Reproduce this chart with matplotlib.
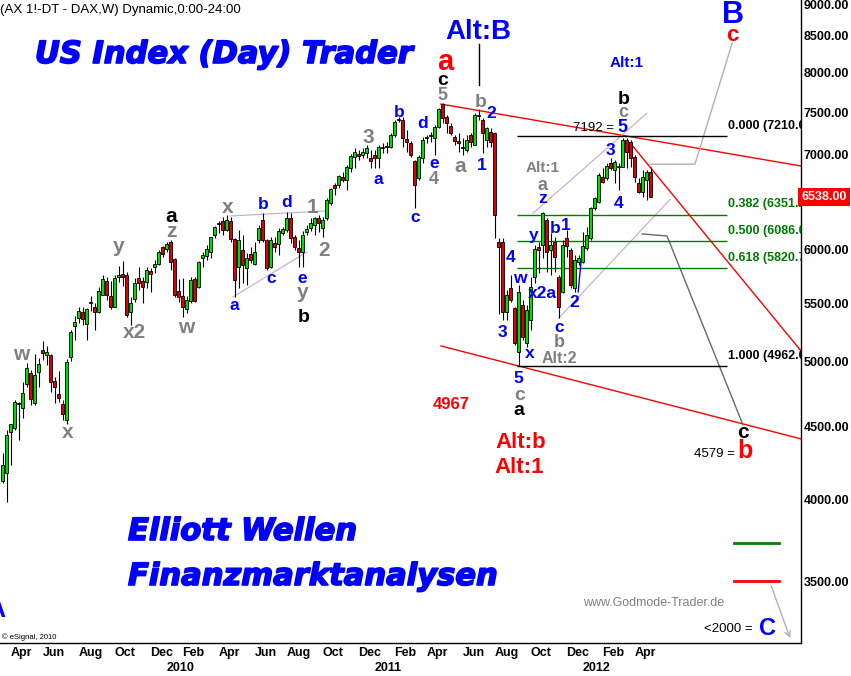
import numpy as np
import pandas as pd
import matplotlib
matplotlib.use("Agg")
import matplotlib.pyplot as plt
import matplotlib.patheffects as pe
from matplotlib.ticker import FixedLocator, NullLocator, NullFormatter

plt.rcParams["font.family"] = ["Liberation Sans", "DejaVu Sans"]

W, H = 851, 676

# weekly bars (DAX future), first bar = week of 23 Mar 2009
weeks = pd.date_range("2009-03-23", periods=163, freq="W-MON")

opens = [4116, 4172, 4459, 4488, 4675, 4637, 4823, 4913, 4674, 4916,
         5097, 5056, 5056, 4847, 4743, 4667, 4549, 5037, 5302, 5366,
         5419, 5314, 5500, 5468, 5419, 5573, 5702, 5565, 5468, 5736,
         5764, 5757, 5419, 5534, 5727, 5702, 5696, 5795, 5830, 5861,
         6023, 6003, 6071, 5906, 5610, 5565, 5445, 5522, 5717, 5644,
         5915, 5941, 5973, 6144, 6255, 6285, 6194, 6285, 6101, 5836,
         5996, 5820, 5953, 5861, 6094, 6295, 6094, 5836, 6067, 6054,
         6161, 6194, 6318, 6127, 6019, 5979, 6171, 6211, 6244, 6318,
         6211, 6312, 6468, 6664, 6664, 6755, 6718, 6850, 6974, 7008,
         6997, 7016, 6963, 6997, 6959, 7073, 7085, 7092, 7227, 7406,
         7406, 7177, 7131, 6929, 6736, 6959, 7188, 7220, 7197, 7326,
         7600, 7442, 7334, 7200, 7158, 7073, 7054, 7227, 7112, 7460,
         7406, 7169, 7268, 7248, 6077, 6077, 5424, 5635, 5454, 5080,
         5483, 5153, 5351, 5742, 6029, 6044, 6295, 5996, 6077, 5742,
         5604, 6111, 5996, 5635, 5880, 5883, 6011, 6111, 6416, 6486,
         6755, 6736, 6910, 6828, 6860, 6865, 7169, 7150, 6978, 6682,
         6592, 6718, 6809]
highs = [4312, 4476, 4520, 4699, 4686, 4842, 4988, 4934, 5064, 5029,
         5172, 5130, 5060, 4881, 4926, 4699, 5021, 5265, 5386, 5468,
         5468, 5454, 5565, 5498, 5649, 5757, 5742, 5702, 5757, 5842,
         5889, 5788, 5558, 5727, 5830, 5742, 5836, 5820, 5899, 5996,
         6035, 6077, 6094, 5915, 5717, 5727, 5565, 5736, 5736, 5889,
         5979, 6044, 6127, 6234, 6285, 6329, 6347, 6329, 6111, 6194,
         6144, 5963, 6029, 6077, 6244, 6364, 6100, 6127, 6127, 6211,
         6227, 6381, 6364, 6144, 6094, 6187, 6244, 6312, 6329, 6347,
         6329, 6521, 6628, 6682, 6773, 6809, 6883, 7008, 7077, 7054,
         7077, 7112, 7054, 7054, 7112, 7135, 7146, 7250, 7406, 7443,
         7446, 7287, 7158, 6940, 6997, 7207, 7227, 7266, 7346, 7551,
         7615, 7466, 7370, 7227, 7248, 7188, 7227, 7250, 7490, 7539,
         7425, 7322, 7310, 7266, 6113, 6113, 5619, 5757, 5468, 5665,
         5528, 5483, 5742, 6044, 6077, 6381, 6312, 6161, 6127, 5757,
         6094, 6194, 6016, 5947, 5947, 6177, 6227, 6434, 6538, 6791,
         6846, 6906, 6959, 6940, 6906, 7192, 7188, 7169, 6997, 6736,
         6828, 6828, 6865]
lows = [4109, 3980, 4229, 4476, 4404, 4562, 4797, 4662, 4662, 4802,
        5015, 4975, 4763, 4674, 4686, 4549, 4520, 5010, 5180, 5323,
        5308, 5180, 5433, 5265, 5410, 5570, 5528, 5445, 5462, 5696,
        5656, 5380, 5308, 5513, 5619, 5504, 5635, 5604, 5773, 5852,
        5931, 5980, 5804, 5558, 5513, 5380, 5410, 5498, 5513, 5640,
        5836, 5899, 5915, 6111, 6164, 6144, 6184, 6077, 5558, 5635,
        5680, 5665, 5867, 5852, 6061, 6077, 5804, 5820, 5979, 5947,
        6144, 6177, 6067, 5996, 5836, 5836, 6144, 6187, 6144, 6177,
        6127, 6295, 6451, 6557, 6628, 6700, 6610, 6806, 6850, 6940,
        6963, 6963, 6850, 6846, 6850, 7020, 7020, 7073, 7208, 7382,
        7092, 7031, 6974, 6416, 6718, 6906, 7135, 7150, 6997, 7310,
        7370, 7248, 7227, 7112, 7035, 6997, 7035, 7092, 7112, 7406,
        7016, 7092, 7092, 6117, 5400, 5351, 5351, 5513, 5139, 4962,
        5180, 5125, 5265, 5680, 5773, 5915, 5788, 5757, 5788, 5366,
        5589, 5931, 5637, 5604, 5852, 5868, 5996, 6094, 6398, 6468,
        6682, 6718, 6828, 6682, 6610, 6865, 6846, 6865, 6700, 6574,
        6538, 6503, 6538]
closes = [4229, 4440, 4518, 4686, 4665, 4751, 4948, 4704, 4894, 4983,
          5070, 5083, 4842, 4797, 4712, 4592, 5001, 5251, 5331, 5433,
          5357, 5445, 5508, 5419, 5610, 5717, 5573, 5468, 5727, 5754,
          5742, 5395, 5498, 5686, 5680, 5649, 5804, 5764, 5861, 5973,
          5957, 6054, 5883, 5573, 5558, 5468, 5528, 5711, 5519, 5883,
          5947, 6006, 6121, 6221, 6265, 6194, 6295, 6101, 5711, 6094,
          5852, 5915, 5899, 5979, 6211, 6094, 5820, 6094, 6028, 6184,
          6201, 6312, 6111, 6023, 5979, 6144, 6204, 6262, 6312, 6262,
          6295, 6503, 6617, 6628, 6762, 6718, 6861, 6985, 7031, 6985,
          7035, 7073, 6929, 6959, 7092, 7092, 7100, 7227, 7386, 7418,
          7189, 7150, 6997, 6664, 6977, 7169, 7207, 7233, 7326, 7535,
          7430, 7370, 7248, 7162, 7131, 7092, 7169, 7150, 7466, 7472,
          7248, 7310, 7150, 6346, 6028, 5424, 5573, 5528, 5153, 5604,
          5208, 5439, 5649, 6003, 5996, 6364, 5979, 6044, 5931, 5468,
          6044, 6035, 5665, 5899, 5918, 6035, 6144, 6416, 6521, 6773,
          6700, 6868, 6846, 6921, 6868, 7169, 7035, 6959, 6755, 6592,
          6755, 6809, 6538]

# Fibonacci retracement between swing high and swing low
fib_high, fib_low = 7210.0, 4962.0
fib_ratios = [0.000, 0.382, 0.500, 0.618, 1.000]
fib_colors = ["black", "#007a00", "#007a00", "#007a00", "black"]

yticks = [3500, 4000, 4500, 5000, 5500, 6000, 7000, 7500, 8000, 8500, 9000]
last_price = closes[-1]

BLUE, RED, GRAY, BLK = "#0000ff", "#ff0000", "#808080", "black"

fig = plt.figure(figsize=(W / 100, H / 100), dpi=100)
ax = fig.add_axes([0, 33 / H, 801 / W, 643 / H])
ax.set_yscale("log")

x = np.arange(len(weeks))
o = np.array(opens, float)
c = np.array(closes, float)
lo_body = np.minimum(o, c)
hi_body = np.maximum(o, c)
ax.vlines(x, lows, highs, color="black", lw=0.8, zorder=3)
ax.bar(x, np.maximum(hi_body - lo_body, 4), bottom=lo_body, width=0.75,
       color=np.where(c >= o, "#00dd00", "#e00000"), edgecolor="black",
       linewidth=0.6, zorder=4)

# trend / channel lines
ax.plot([109.6, 199.6], [7600, 6872], color=RED, lw=1, zorder=2)
ax.plot([109.6, 199.6], [5130, 4411], color=RED, lw=1, zorder=2)
ax.plot([156.9, 199.6], [7134, 5089], color=RED, lw=1, zorder=2)
ax.plot([132.6, 161.05], [6364, 7487], color="#c4aacb", lw=0.8, zorder=2)
ax.plot([139.0, 166.9], [5366, 6511], color="#c4aacb", lw=0.8, zorder=2)
ax.plot([57.6, 76.1], [5555, 5976], color="#c4aacb", lw=0.8, zorder=2)
ax.plot([56.9, 80.6], [6336, 6388], color="#c4aacb", lw=0.8, zorder=2)
ax.plot([161.9, 173.1, 182.4], [6893, 6893, 8393], color="#b0b0b0", lw=1, zorder=2)
ax.plot([159.9, 166.1, 185.1], [6154, 6134, 4513], color="#6a6a6a", lw=1, zorder=2)
ax.plot([119, 119], [8379, 7839], color="black", lw=1, zorder=2)
ax.plot([143.9, 144.6], [5601, 5880], color=BLUE, lw=1, zorder=5)
ax.annotate("", xy=(197.1, 3178), xytext=(191.9, 3490),
            arrowprops=dict(arrowstyle="->", color="#b0b0b0", lw=1))
ax.plot([182.9, 194.1], [3725, 3725], color="#008000", lw=2)
ax.plot([182.9, 194.1], [3502, 3502], color=RED, lw=2)

for r, col in zip(fib_ratios, fib_colors):
    lvl = fib_high - r * (fib_high - fib_low)
    ax.hlines(lvl, 128.6, 181.1, color=col, lw=1, zorder=2)
    ax.annotate(f"{r:.3f} ({lvl:.2f})", (181.4, lvl), xytext=(0, 3),
                textcoords="offset points", ha="left", va="bottom",
                fontsize=9, fontweight="bold", color=col, clip_on=True)

ax.set_xlim(-0.625, 199.6)
ax.set_ylim(3166, 9000)

# axes, ticks
for s in ("top", "left"):
    ax.spines[s].set_visible(False)
for s in ("right", "bottom"):
    ax.spines[s].set_color("black")
    ax.spines[s].set_linewidth(1)

ax.yaxis.tick_right()
ax.yaxis.set_major_locator(FixedLocator(yticks))
ax.yaxis.set_minor_locator(NullLocator())
ax.yaxis.set_minor_formatter(NullFormatter())
ax.set_yticklabels([f"{v:.2f}" for v in yticks], fontsize=9, fontweight="bold")
ax.tick_params(axis="y", length=0, pad=2)
ax.get_yticklabels()[-1].set_va("top")

month_pos, month_lab, year_pos, year_lab = [], [], [], []
for i in range(1, len(weeks)):
    d = weeks[i]
    if d.month == weeks[i - 1].month:
        continue
    if d.month % 2 == 0:
        month_pos.append(i)
        month_lab.append(d.strftime("%b"))
    elif d.month == 1:
        year_pos.append(i)
        year_lab.append(str(d.year))
ax.set_xticks(month_pos, month_lab, fontsize=9, fontweight="bold", ha="left")
ax.set_xticks(year_pos, year_lab, minor=True, fontsize=9, fontweight="bold", ha="left")
ax.tick_params(axis="x", which="major", length=0, pad=3)
ax.tick_params(axis="x", which="minor", length=0, pad=14)

ax.text(1.0, last_price, f"{last_price:.2f}", transform=ax.get_yaxis_transform(),
        ha="left", va="center", fontsize=9, fontweight="bold", color="white",
        bbox=dict(boxstyle="square,pad=0.25", facecolor=RED, edgecolor="none"))


def fx(px, py):
    return px / W, 1 - py / H


# wave counts: text, x px, baseline px, colour, size
labels = [
    ("w", 21, 360, GRAY, 15), ("x", 68, 438, GRAY, 15), ("y", 119, 252, GRAY, 15),
    ("x2", 134, 338, GRAY, 15), ("a", 171, 222, BLK, 15), ("z", 171, 237, GRAY, 15),
    ("w", 186, 333, GRAY, 15), ("x", 228, 213, GRAY, 15), ("b", 263, 209, BLUE, 12.5),
    ("d", 287, 207, BLUE, 12.5), ("1", 312, 213, GRAY, 15), ("2", 324, 256, GRAY, 15),
    ("a", 234, 310, BLUE, 12.5), ("c", 271, 283, BLUE, 12.5), ("e", 302, 283, BLUE, 12.5),
    ("y", 303, 298, GRAY, 15), ("b", 304, 322, BLK, 14), ("3", 368, 143, GRAY, 15),
    ("a", 378, 184, BLUE, 12.5), ("b", 399, 117, BLUE, 12.5), ("d", 423, 128, BLUE, 12.5),
    ("c", 415, 222, BLUE, 12.5), ("e", 434, 168, BLUE, 12.5), ("4", 434, 184, GRAY, 13),
    ("a", 460, 172, GRAY, 15), ("1", 482, 170, BLUE, 12.5), ("2", 491, 118, BLUE, 12.5),
    ("b", 481, 107, GRAY, 14), ("5", 442, 100, GRAY, 13), ("c", 443, 85, BLK, 14),
    ("a", 445, 70, RED, 21), ("Alt:B", 478, 39, BLUE, 20), ("Alt:1", 627, 67, BLUE, 11),
    ("B", 733, 23, BLUE, 22), ("c", 732, 41, RED, 16), ("b", 624, 104, BLK, 14),
    ("c", 623, 117, GRAY, 13), ("5", 622, 132, BLUE, 13), ("3", 610, 155, BLUE, 12.5),
    ("Alt:1", 543, 172, GRAY, 11), ("a", 542, 190, GRAY, 13), ("z", 543, 203, BLUE, 12.5),
    ("4", 619, 208, BLUE, 12.5), ("y", 534, 240, BLUE, 12.5), ("b", 555, 233, BLUE, 12.5),
    ("1", 566, 230, BLUE, 12.5), ("4", 511, 262, BLUE, 12.5), ("w", 520, 283, BLUE, 12.5),
    ("x2a", 542, 298, BLUE, 12.5), ("2", 574, 307, BLUE, 12.5), ("3", 502, 337, BLUE, 12.5),
    ("c", 559, 332, BLUE, 12.5), ("b", 559, 347, GRAY, 13), ("Alt:2", 559, 363, GRAY, 11.5),
    ("x", 530, 358, BLUE, 12.5), ("5", 518, 383, BLUE, 12.5), ("c", 520, 400, GRAY, 14),
    ("a", 519, 415, BLK, 14), ("4967", 451, 409, RED, 12), ("Alt:b", 521, 448, RED, 16),
    ("Alt:1", 519, 473, RED, 16), ("c", 743, 438, BLK, 15), ("b", 745, 458, RED, 18),
    ("C", 767, 635, BLUE, 17),
]
for s, px, py, col, size in labels:
    fig.text(*fx(px, py), s, ha="center", va="baseline", color=col,
             fontsize=size, fontweight="bold")

fig.text(*fx(614, 131), "7192 =", ha="right", va="baseline", fontsize=9.5)
fig.text(*fx(735, 457), "4579 =", ha="right", va="baseline", fontsize=9.5)
fig.text(*fx(753, 632), "<2000 =", ha="right", va="baseline", fontsize=9.5)
fig.text(*fx(654, 606), "www.Godmode-Trader.de", ha="center", va="baseline",
         fontsize=9, color=GRAY)
fig.text(*fx(0, 13), "(AX 1!-DT - DAX,W) Dynamic,0:00-24:00", ha="left",
         va="baseline", fontsize=9.5)
fig.text(*fx(2, 639), "\u00a9 eSignal, 2010", ha="left", va="baseline", fontsize=5.5)

big = dict(family="DejaVu Sans", fontweight="bold", style="italic", color=BLUE,
           fontsize=22, ha="left", va="baseline",
           path_effects=[pe.withStroke(linewidth=1.2, foreground=BLUE)])
fig.text(*fx(35, 63), "US Index (Day) Trader", **big)
fig.text(*fx(128, 540), "Elliott Wellen", **big)
fig.text(*fx(128, 585), "Finanzmarktanalysen", **big)
fig.text(*fx(5, 617), "A", ha="right", va="baseline", fontsize=18,
         fontweight="bold", color=BLUE)

fig.savefig("out.png", dpi=100)
